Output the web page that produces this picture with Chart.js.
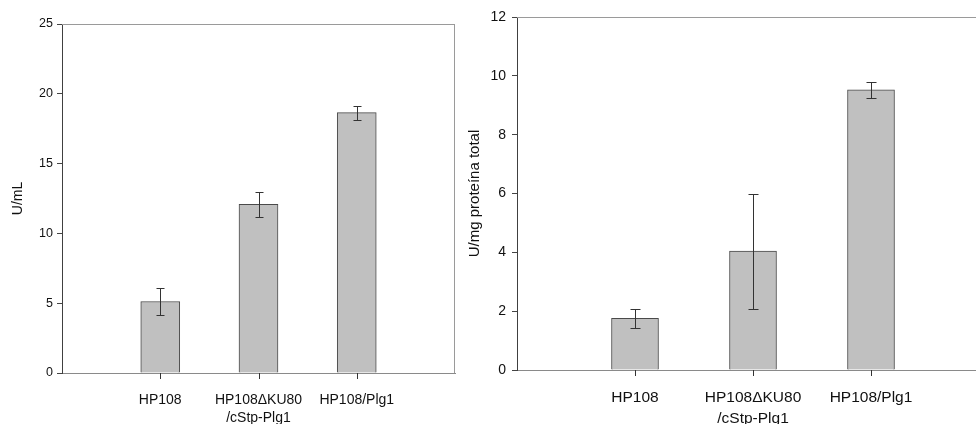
<!DOCTYPE html>
<html>
<head>
<meta charset="utf-8">
<script src="https://cdn.jsdelivr.net/npm/chart.js@4.4.0/dist/chart.umd.min.js"></script>
<style>
  html, body { margin: 0; padding: 0; background: #fff; overflow: hidden; width: 976px; height: 424px; }
  canvas { position: absolute; top: 0; }
  #left { left: 0; }
  #right { left: 460px; }
</style>
</head>
<body>
<canvas id="left" width="480" height="424"></canvas>
<canvas id="right" width="560" height="424"></canvas>
<script>
// strains on the x axis (same for both panels)
const strains = ['HP108', ['HP108\u0394KU80', '/cStp-Plg1'], 'HP108/Plg1'];

// left panel: activity per volume
const umL = [5.12, 12.08, 18.65];
const umLErr = [0.97, 0.92, 0.5];

// right panel: activity per mg total protein
const umgProt = [1.76, 4.04, 9.52];
const umgProtErr = [0.33, 1.96, 0.26];

// empty slots at both ends so bars sit at 1/4, 2/4, 3/4 of the axis
const padLabels = ['', ...strains, ''];
const pad = arr => [null, ...arr, null];

const fontFamily = 'Arial, "Liberation Sans", sans-serif';

// draws error bars, x tick marks and the grey top/right frame
const extras = {
  id: 'extras',
  afterDatasetsDraw(chart) {
    const ctx = chart.ctx;
    const { left, top, right, bottom } = chart.chartArea;
    const xs = chart.scales.x, ys = chart.scales.y;
    const ds = chart.data.datasets[0];
    ctx.save();
    ctx.strokeStyle = '#9a9a9a';
    ctx.lineWidth = 1;
    ctx.beginPath();
    ctx.moveTo(left, top + 0.5);
    ctx.lineTo(right, top + 0.5);
    ctx.moveTo(right - 0.5, top);
    ctx.lineTo(right - 0.5, bottom);
    ctx.stroke();

    const cap = chart.options.plugins.extras.cap;
    ds.data.forEach((v, i) => {
      if (v == null) return;
      const e = ds.errors[i];
      const x = Math.round(xs.getPixelForValue(i)) + 0.5;
      const y1 = Math.round(ys.getPixelForValue(v + e)) + 0.5;
      const y2 = Math.round(ys.getPixelForValue(v - e)) + 0.5;
      ctx.strokeStyle = '#333';
      ctx.beginPath();
      ctx.moveTo(x, y1); ctx.lineTo(x, y2);
      ctx.moveTo(x - cap, y1); ctx.lineTo(x + cap, y1);
      ctx.moveTo(x - cap, y2); ctx.lineTo(x + cap, y2);
      ctx.stroke();
      // category tick below the axis
      ctx.strokeStyle = '#333';
      ctx.beginPath();
      ctx.moveTo(x, Math.round(bottom));
      ctx.lineTo(x, Math.round(bottom) + 6);
      ctx.stroke();
    });
    ctx.restore();
  }
};

function makeChart(id, values, errors, o) {
  return new Chart(document.getElementById(id), {
    type: 'bar',
    data: {
      labels: padLabels,
      datasets: [{
        data: pad(values),
        errors: pad(errors),
        backgroundColor: '#c0c0c0',
        borderColor: '#4a4a4a',
        borderWidth: 1,
        barThickness: o.barW
      }]
    },
    options: {
      responsive: false,
      animation: false,
      layout: { padding: o.padding },
      plugins: {
        legend: { display: false },
        tooltip: { enabled: false },
        extras: { cap: o.cap }
      },
      scales: {
        x: {
          offset: false,
          afterFit: s => { s.height = o.xH; },
          grid: { offset: false, drawOnChartArea: false, drawTicks: false },
          border: { color: '#8a8a8a' },
          ticks: {
            autoSkip: false,
            maxRotation: 0,
            padding: o.xPad + 5,
            color: '#111',
            font: { family: fontFamily, size: o.xFont, lineHeight: 1.3 }
          }
        },
        y: {
          min: 0,
          max: o.yMax,
          afterFit: s => { s.width = o.yW; },
          grid: { drawOnChartArea: false, tickLength: 5, tickColor: '#444' },
          border: { color: '#404040' },
          ticks: {
            stepSize: o.yStep,
            padding: o.yPad,
            color: '#111',
            font: { family: fontFamily, size: o.yFont }
          },
          title: {
            display: true,
            text: o.title,
            color: '#111',
            padding: { top: o.titlePad, bottom: 0 },
            font: { family: fontFamily, size: o.titleFont }
          }
        }
      }
    },
    plugins: [extras]
  });
}

makeChart('left', umL, umLErr, {
  padding: { left: 0, top: 24, right: 25, bottom: 0 },
  yW: 62, xH: 51, barW: 39, cap: 4,
  yMax: 25, yStep: 5, yFont: 12.5, yPad: 4,
  xFont: 14, xPad: 13,
  title: 'U/mL', titleFont: 14, titlePad: 10
});

makeChart('right', umgProt, umgProtErr, {
  padding: { left: 0, top: 17, right: 31, bottom: 0 },
  yW: 57, xH: 54, barW: 47, cap: 5,
  yMax: 12, yStep: 2, yFont: 14, yPad: 6,
  xFont: 15.5, xPad: 13,
  title: 'U/mg prote\u00edna total', titleFont: 15, titlePad: 6
});
</script>
</body>
</html>
